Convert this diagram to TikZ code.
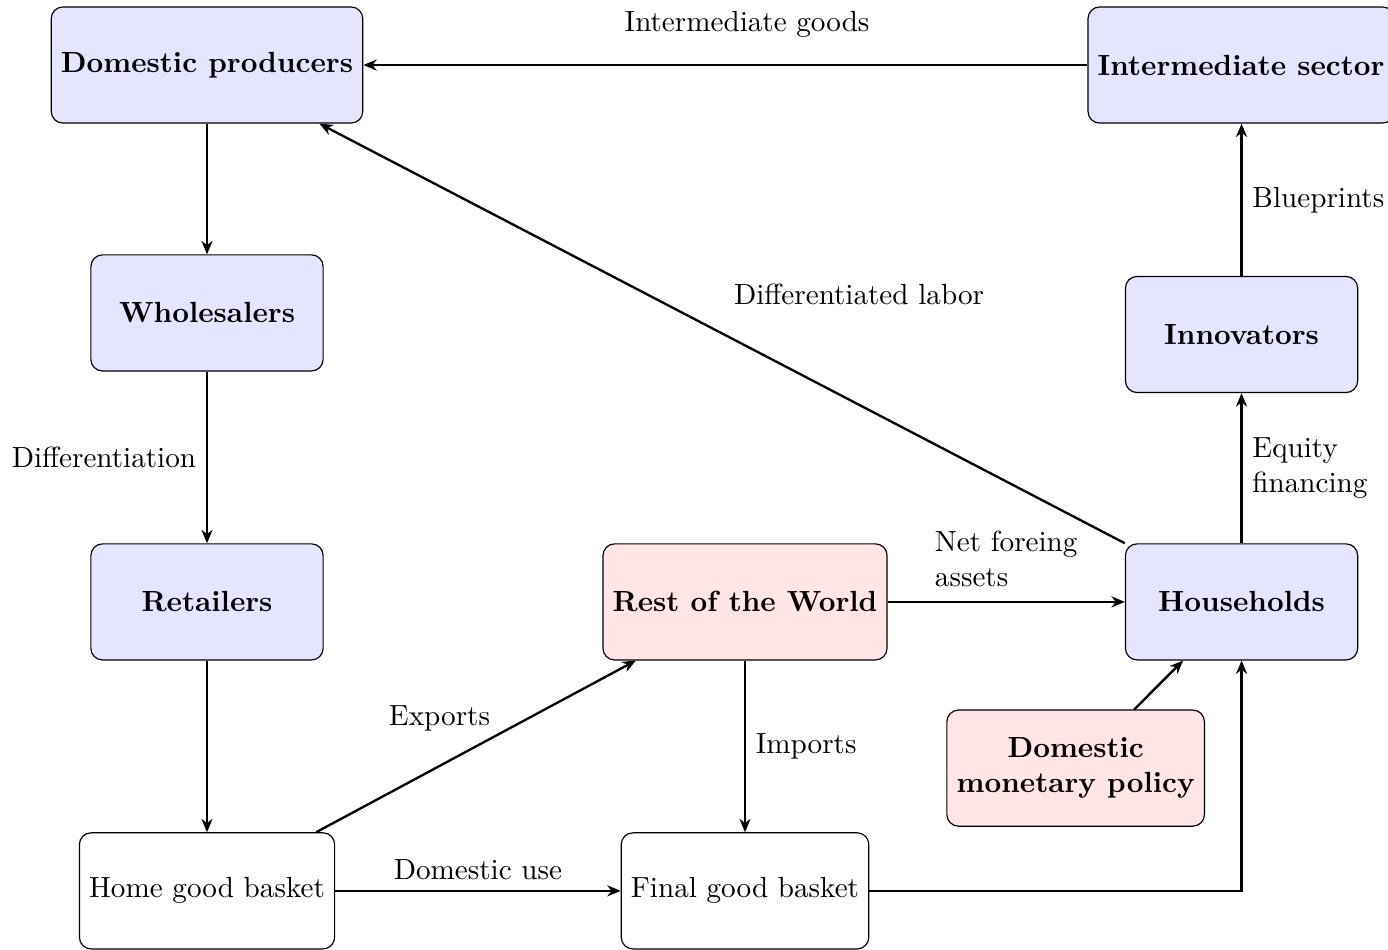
\documentclass[tikz,border=0pt]{standalone}
\usetikzlibrary{arrows.meta, positioning}
\tikzset{
    block/.style={draw, rectangle, rounded corners=4pt, fill=blue!10, line width=0.4pt, minimum height=1.4cm, minimum width=2.8cm, align=center, font=\bfseries},
    world/.style={block, fill=red!10},
    basket/.style={draw, rectangle, rounded corners=4pt, fill=white, line width=0.4pt, minimum height=1.4cm, minimum width=2.8cm, align=center},
    arrow/.style={draw, -{Stealth[length=4.6pt, width=3.8pt]}, line width=0.8pt}
}
\begin{document}
\begin{tikzpicture}[node distance=2.07cm and 3.36cm]
    \useasboundingbox (-2.496,0.784) rectangle (14.239,-10.670);

    \node [block] (dom) at (0,0) {Domestic producers};
    \node [block, right=8.73cm of dom] (inter) {Intermediate sector};
    \node [block, below=1.575cm of dom] (whole) {Wholesalers};
    \node [block, below=of whole] (ret) {Retailers};
    \node [basket, below=of ret] (home) {Home good basket};
    \node [world, right=of ret] (row) {Rest of the World};
    \node [block, right=2.86cm of row] (hh) {Households};
    \node [block, above=1.81cm of hh] (innov) {Innovators};
    \node [basket, below=of row] (final) {Final good basket};
    \node [world, below=0.59cm of hh, xshift=-2.0cm] (mon) {Domestic\\monetary policy};

    \draw [arrow] (inter) -- (dom) node [pos=0.47, above=0.2cm] {Intermediate goods};
    \draw [arrow] (dom) -- (whole);
    \draw [arrow] (whole) -- (ret) node [midway, left] {Differentiation};
    \draw [arrow] (ret) -- (home);
    \draw [arrow] (home) -- (row) node [midway, above=0.05cm, xshift=-0.44cm] {Exports};
    \draw [arrow] (home) -- (final) node [midway, above] {Domestic use};
    \draw [arrow] (row) -- (final) node [midway, right] {Imports};
    \draw [arrow] (row) -- (hh) node [midway, above=1.5pt, align=left] {Net foreing\\assets};
    \draw [arrow] (final) -| (hh);
    \draw [arrow] (mon) -- (hh);
    \draw [arrow] (hh) -- (innov) node [midway, right, align=left] {Equity\\financing};
    \draw [arrow] (innov) -- (innov |- inter.south) node [midway, right] {Blueprints};
    \draw [arrow] (hh.north west) -- (dom) node [pos=0.33, above=1.08cm] {Differentiated labor};
\end{tikzpicture}
\end{document}
